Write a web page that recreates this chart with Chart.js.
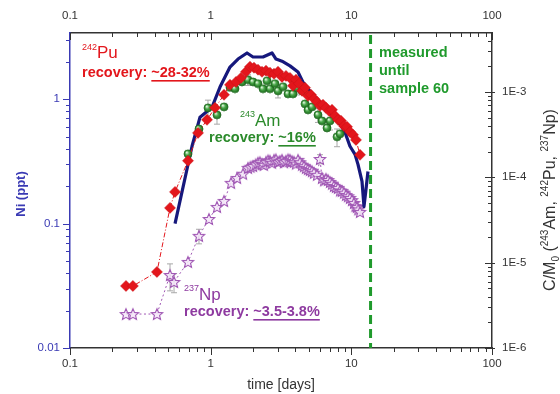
<!DOCTYPE html>
<html lang="en">
<head>
<meta charset="UTF-8">
<title>Ni and actinide breakthrough curves</title>
<script src="https://cdn.jsdelivr.net/npm/chart.js@4.4.1/dist/chart.umd.min.js"></script>
<style>
  body { margin: 0; background: #fff; }
  canvas { display: block; }
</style>
</head>
<body>
<canvas id="curves" width="560" height="394"></canvas>
<script>
// axis ticks
const tickDays = [0.1, 1, 10, 100];
const tickNi = [0.01, 0.1, 1];
const tickRatio = [1e-6, 1e-5, 1e-4, 1e-3];

// Ni in the effluent (ppt, left axis)
const niDays = [0.558, 0.737, 0.840, 1.022, 1.165, 1.372, 1.564, 1.813, 2.0, 2.355, 2.729, 2.914, 3.215, 3.664, 4.177,
                4.533, 5.083, 5.70, 6.50, 7.41, 8.31, 9.01, 9.78, 10.62, 11.15, 11.91, 12.30, 12.71, 13.13];
const niPpt = [0.100, 0.418, 0.716, 0.861, 1.25, 1.81, 2.10, 2.35, 2.18, 2.18, 2.35, 2.10, 2.02, 1.85, 1.65,
               1.37, 1.16, 1.00, 0.861, 0.716, 0.628, 0.542, 0.418, 0.360, 0.299, 0.218, 0.137, 0.188, 0.262];

// 242Pu C/M0 (right axis)
const puDays = [0.250, 0.280, 0.415, 0.514, 0.558, 0.690, 0.813, 0.942, 1.074, 1.244, 1.372, 1.514, 1.643, 1.783, 1.904,
                2.032, 2.170, 2.317, 2.474, 2.641, 2.820, 3.011, 3.215, 3.431, 3.664, 3.848, 4.043, 4.246, 4.460, 4.684,
                4.919, 5.167, 5.427, 5.70, 5.987, 6.288, 6.605, 6.937, 7.287, 7.653, 8.039, 8.444, 8.868, 9.315, 9.78,
                10.28, 10.79, 11.52];
const puRatio = [5.33e-6, 5.33e-6, 7.78e-6, 4.38e-5, 6.74e-5, 1.56e-4, 3.31e-4, 4.71e-4, 6.51e-4, 9.25e-4, 1.21e-3, 1.31e-3, 1.46e-3, 1.72e-3, 1.97e-3,
                 1.92e-3, 1.82e-3, 1.72e-3, 1.77e-3, 1.68e-3, 1.63e-3, 1.72e-3, 1.50e-3, 1.54e-3, 1.46e-3, 1.18e-3, 1.39e-3, 1.25e-3, 1.03e-3, 1.12e-3,
                 9.00e-4, 9.25e-4, 8.30e-4, 7.65e-4, 6.87e-4, 7.06e-4, 6.51e-4, 6.00e-4, 6.17e-4, 5.24e-4, 4.71e-4, 4.58e-4, 4.00e-4, 3.90e-4, 3.41e-4,
                 3.14e-4, 2.74e-4, 1.83e-4];

// 243Am C/M0 (right axis) with uncertainty
const amDays = [0.690, 0.826, 0.957, 1.109, 1.244, 1.372, 1.489, 1.670, 1.842, 2.0, 2.170, 2.355, 2.515, 2.641, 2.866,
                3.011, 3.268, 3.545, 3.848, 4.108, 4.460, 4.684, 4.919, 5.253, 5.794, 6.186, 6.714, 7.052, 7.910, 8.31];
const amRatio = [1.88e-4, 3.69e-4, 6.51e-4, 5.39e-4, 6.69e-4, 1.13e-3, 1.09e-3, 1.31e-3, 1.39e-3, 1.31e-3, 1.25e-3, 1.09e-3, 1.35e-3, 1.09e-3, 1.25e-3,
                 1.03e-3, 1.15e-3, 9.50e-4, 9.50e-4, 1.12e-3, 1.03e-3, 7.25e-4, 6.17e-4, 6.69e-4, 5.39e-4, 4.58e-4, 3.79e-4, 4.58e-4, 2.98e-4, 3.23e-4];
const amErr = [0, 0, 1.5e-4, 1.2e-4, 0, 0, 0, 0, 2.0e-4, 0, 0, 0, 0, 0, 0,
               1.8e-4, 0, 0, 0, 2.0e-4, 0, 0, 0, 0, 1.0e-4, 0, 0, 1.0e-4, 7.0e-5, 0];

// 237Np C/M0 (right axis) with uncertainty
const npDays = [0.250, 0.280, 0.415, 0.514, 0.549, 0.690, 0.826, 0.973, 1.109, 1.244,
                1.395, 1.539, 1.698, 1.842, 1.92, 2.0, 2.09, 2.170, 2.24, 2.317,
                2.39, 2.474, 2.56, 2.641, 2.73, 2.820, 2.91, 3.011, 3.11, 3.215,
                3.32, 3.431, 3.55, 3.664, 3.79, 3.912, 4.04, 4.177, 4.31, 4.460,
                4.61, 4.761, 4.92, 5.083, 5.25, 5.427, 5.70, 5.987, 6.186, 6.40,
                6.605, 6.83, 7.052, 7.29, 7.529, 7.78, 8.039, 8.31, 8.583, 8.87,
                9.165, 9.47, 9.78, 10.1, 10.44, 10.7, 10.97, 11.2, 11.52];
const npRatio = [2.50e-6, 2.50e-6, 2.50e-6, 7.17e-6, 5.94e-6, 1.02e-5, 2.06e-5, 3.25e-5, 4.50e-5, 5.29e-5,
                 8.60e-5, 9.84e-5, 1.10e-4, 1.29e-4, 1.33e-4, 1.36e-4, 1.42e-4, 1.48e-4, 1.50e-4, 1.44e-4,
                 1.40e-4, 1.52e-4, 1.58e-4, 1.56e-4, 1.48e-4, 1.60e-4, 1.62e-4, 1.52e-4, 1.55e-4, 1.60e-4,
                 1.50e-4, 1.56e-4, 1.62e-4, 1.60e-4, 1.55e-4, 1.52e-4, 1.45e-4, 1.60e-4, 1.50e-4, 1.40e-4,
                 1.35e-4, 1.29e-4, 1.25e-4, 1.22e-4, 1.18e-4, 1.13e-4, 1.07e-4, 1.64e-4, 9.84e-5, 9.20e-5,
                 9.58e-5, 9.30e-5, 8.83e-5, 8.40e-5, 7.93e-5, 7.70e-5, 7.51e-5, 7.00e-5, 6.93e-5, 6.60e-5,
                 6.22e-5, 6.00e-5, 5.73e-5, 5.40e-5, 5.01e-5, 4.60e-5, 4.50e-5, 4.20e-5, 3.93e-5];
const npErr = [0, 0, 0, 2.5e-6, 1.5e-6, 0, 4.0e-6, 0, 0, 0,
               0, 0, 0, 0, 0, 0, 0, 0, 0, 0,
               0, 0, 0, 0, 0, 0, 0, 0, 0, 0,
               0, 0, 0, 0, 0, 0, 0, 0, 0, 0,
               0, 0, 0, 0, 0, 0, 0, 2.0e-5, 0, 0,
               0, 0, 0, 0, 0, 0, 0, 0, 0, 0,
               0, 0, 0, 0, 0, 0, 0, 0, 0];

// last sample taken
const sampleEndDay = 13.7;

const FONT = '"Liberation Sans", Arial, Helvetica, sans-serif';
const INK = '#333';
const NI_BLUE = '#3a3ab4';
const PU_RED = '#e3161c';
const AM_GREEN = '#2b8a2b';
const NP_PURPLE = '#8e3aa0';
const END_GREEN = '#1f9a2c';

function pts(xs, ys) { return xs.map((x, i) => ({ x: x, y: ys[i] })); }

// 1..9 x 10^n steps between min and max
function logSteps(min, max) {
    const out = [];
    for (let e = Math.floor(Math.log10(min)); e <= Math.ceil(Math.log10(max)); e++) {
        for (let m = 1; m < 10; m++) {
            const v = m * Math.pow(10, e);
            if (v >= min * 0.999 && v <= max * 1.001) out.push({ v: v, major: m === 1 });
        }
    }
    return out;
}

// open five-point star marker
function starMarker(r) {
    const c = document.createElement('canvas');
    const s = Math.ceil(r * 2 + 4);
    c.width = c.height = s;
    const g = c.getContext('2d');
    g.translate(s / 2, s / 2 + 0.6);
    g.beginPath();
    for (let i = 0; i < 10; i++) {
        const rad = i % 2 ? r * 0.45 : r;
        const a = -Math.PI / 2 + i * Math.PI / 5;
        g.lineTo(rad * Math.cos(a), rad * Math.sin(a));
    }
    g.closePath();
    g.fillStyle = 'rgba(244,232,248,0.85)';
    g.fill();
    g.lineWidth = 1.1;
    g.strokeStyle = '#a057b4';
    g.stroke();
    return c;
}

// shaded ball marker
function ballMarker(r) {
    const c = document.createElement('canvas');
    const s = Math.ceil(r * 2 + 2);
    c.width = c.height = s;
    const g = c.getContext('2d');
    const m = s / 2;
    const grad = g.createRadialGradient(m - r * 0.35, m - r * 0.4, r * 0.1, m, m, r);
    grad.addColorStop(0, '#e4f6e0');
    grad.addColorStop(0.45, '#4aa84a');
    grad.addColorStop(1, '#1b6a1b');
    g.beginPath();
    g.arc(m, m, r, 0, Math.PI * 2);
    g.fillStyle = grad;
    g.fill();
    g.lineWidth = 0.8;
    g.strokeStyle = '#1f6a1f';
    g.stroke();
    return c;
}

// text runs with sizes, offsets and underline
function rich(ctx, x, y, parts, color, measureOnly) {
    ctx.fillStyle = color;
    let cx = x;
    parts.forEach(p => {
        ctx.font = (p.b ? 'bold ' : '') + p.s + 'px ' + FONT;
        const w = ctx.measureText(p.t).width;
        if (!measureOnly) {
            ctx.fillText(p.t, cx, y + (p.dy || 0));
            if (p.u) ctx.fillRect(cx, y + 3, w, 1.6);
        }
        cx += w;
    });
    return cx - x;
}

const axisTicks = {
    id: 'axisTicks',
    afterDraw(chart) {
        const { ctx, chartArea: a, scales } = chart;
        ctx.save();
        ctx.lineWidth = 1;
        const mark = (scale, side) => {
            logSteps(scale.min, scale.max).forEach(t => {
                const p = Math.round(scale.getPixelForValue(t.v)) + 0.5;
                const len = t.major ? 7 : 4;
                ctx.beginPath();
                if (side === 'bottom') { ctx.moveTo(p, a.bottom); ctx.lineTo(p, a.bottom + len); }
                if (side === 'top') { ctx.moveTo(p, a.top); ctx.lineTo(p, a.top + len); }
                if (side === 'left') { ctx.moveTo(a.left, p); ctx.lineTo(a.left - len, p); }
                if (side === 'right') { ctx.moveTo(a.right + (t.major ? 3 : 0), p); ctx.lineTo(a.right - len, p); }
                ctx.stroke();
            });
        };
        ctx.strokeStyle = INK;
        mark(scales.x, 'bottom');
        mark(scales.x2, 'top');
        mark(scales.y2, 'right');
        ctx.strokeStyle = NI_BLUE;
        mark(scales.y, 'left');

        // axis titles
        ctx.textBaseline = 'alphabetic';
        ctx.fillStyle = INK;
        ctx.font = '14px ' + FONT;
        ctx.textAlign = 'center';
        ctx.fillText('time [days]', 281, 389);

        ctx.save();
        ctx.translate(25, 194);
        ctx.rotate(-Math.PI / 2);
        ctx.fillStyle = NI_BLUE;
        ctx.font = 'bold 13px ' + FONT;
        ctx.fillText('Ni (ppt)', 0, 0);
        ctx.restore();

        ctx.textAlign = 'left';
        const rightTitle = [
            { t: 'C/M', s: 16 }, { t: '0', s: 10, dy: 4 }, { t: ' (', s: 16 },
            { t: '243', s: 10, dy: -7 }, { t: 'Am, ', s: 16 },
            { t: '242', s: 10, dy: -7 }, { t: 'Pu, ', s: 16 },
            { t: '237', s: 10, dy: -7 }, { t: 'Np)', s: 16 }
        ];
        const w = rich(ctx, 0, 0, rightTitle, INK, true);
        ctx.save();
        ctx.translate(555, 200 + w / 2);
        ctx.rotate(-Math.PI / 2);
        rich(ctx, 0, 0, rightTitle, INK);
        ctx.restore();
        ctx.restore();
    }
};

const errorBars = {
    id: 'errorBars',
    beforeDatasetsDraw(chart) {
        const { ctx, scales } = chart;
        ctx.save();
        ctx.strokeStyle = '#a8a8a8';
        ctx.lineWidth = 1;
        const bars = (xs, ys, es) => {
            xs.forEach((d, i) => {
                if (!es[i]) return;
                const px = scales.x.getPixelForValue(d);
                const hi = scales.y2.getPixelForValue(ys[i] + es[i]);
                const lo = scales.y2.getPixelForValue(Math.max(ys[i] - es[i], 1e-7));
                ctx.beginPath();
                ctx.moveTo(px, hi); ctx.lineTo(px, lo);
                ctx.moveTo(px - 3, hi); ctx.lineTo(px + 3, hi);
                ctx.moveTo(px - 3, lo); ctx.lineTo(px + 3, lo);
                ctx.stroke();
            });
        };
        bars(amDays, amRatio, amErr);
        bars(npDays, npRatio, npErr);
        ctx.restore();
    }
};

const notes = {
    id: 'notes',
    afterDatasetsDraw(chart) {
        const { ctx, scales, chartArea: a } = chart;
        ctx.save();
        // end of sampling
        const xe = scales.x.getPixelForValue(sampleEndDay);
        ctx.strokeStyle = END_GREEN;
        ctx.lineWidth = 3;
        ctx.setLineDash([9, 5]);
        ctx.beginPath();
        ctx.moveTo(xe, a.top + 2);
        ctx.lineTo(xe, a.bottom);
        ctx.stroke();
        ctx.setLineDash([]);

        ctx.textBaseline = 'alphabetic';
        ctx.textAlign = 'left';
        rich(ctx, 82, 58, [{ t: '242', s: 9, dy: -8 }, { t: 'Pu', s: 17 }], PU_RED);
        rich(ctx, 82, 77, [{ t: 'recovery: ', s: 14.5, b: 1 }, { t: '~28-32%', s: 14.5, b: 1, u: 1 }], PU_RED);

        rich(ctx, 240, 126, [{ t: '243', s: 9, dy: -9 }, { t: 'Am', s: 17 }], AM_GREEN);
        rich(ctx, 209, 142, [{ t: 'recovery: ', s: 14.5, b: 1 }, { t: '~16%', s: 14.5, b: 1, u: 1 }], AM_GREEN);

        rich(ctx, 184, 300, [{ t: '237', s: 9, dy: -9 }, { t: 'Np', s: 17 }], NP_PURPLE);
        rich(ctx, 184, 316, [{ t: 'recovery: ', s: 14.5, b: 1 }, { t: '~3.5-3.8%', s: 14.5, b: 1, u: 1 }], NP_PURPLE);

        ['measured', 'until', 'sample 60'].forEach((line, i) => {
            rich(ctx, 379, 57 + i * 18, [{ t: line, s: 14.5, b: 1 }], END_GREEN);
        });
        ctx.restore();
    }
};

function logAxis(pos, min, max, ticks, fmt, color, size, pad) {
    const horizontal = pos === 'top' || pos === 'bottom';
    return {
        type: 'logarithmic',
        position: pos,
        min: min,
        max: max,
        afterBuildTicks: s => { s.ticks = ticks.map(v => ({ value: v })); },
        afterFit: s => { if (horizontal) s.height = size; else s.width = size; },
        grid: { display: false },
        border: { display: true, color: color, width: 1.5 },
        ticks: {
            autoSkip: false,
            maxRotation: 0,
            padding: pad,
            color: color,
            font: { family: FONT, size: 11.5 },
            callback: fmt
        }
    };
}

const plain = v => String(v);
const sci = v => '1E' + Math.round(Math.log10(v));

new Chart(document.getElementById('curves'), {
    type: 'line',
    data: {
        datasets: [
            {
                label: '242Pu',
                data: pts(puDays, puRatio),
                yAxisID: 'y2',
                borderColor: PU_RED,
                borderWidth: 1,
                borderDash: [5, 2, 1, 2],
                pointStyle: 'rectRot',
                pointRadius: 5.5,
                pointBackgroundColor: PU_RED,
                pointBorderColor: '#c81014',
                pointBorderWidth: 0.5
            },
            {
                label: '243Am',
                data: pts(amDays, amRatio),
                yAxisID: 'y2',
                showLine: false,
                pointStyle: ballMarker(4),
                pointRadius: 4
            },
            {
                label: 'Ni',
                data: pts(niDays, niPpt),
                yAxisID: 'y',
                borderColor: '#16187c',
                borderWidth: 3.2,
                borderJoinStyle: 'round',
                pointRadius: 0
            },
            {
                label: '237Np',
                data: pts(npDays, npRatio),
                yAxisID: 'y2',
                borderColor: '#a057b4',
                borderWidth: 1,
                borderDash: [2, 2.5],
                pointStyle: starMarker(6),
                pointRadius: 6
            }
        ]
    },
    options: {
        responsive: false,
        animation: false,
        events: [],
        layout: { padding: 0 },
        elements: { line: { tension: 0 } },
        plugins: { legend: { display: false }, tooltip: { enabled: false } },
        scales: {
            x: logAxis('bottom', 0.1, 100, tickDays, plain, INK, 46, 1),
            x2: logAxis('top', 0.1, 100, tickDays, plain, INK, 33, 2),
            y: logAxis('left', 0.01, 3.4, tickNi, plain, NI_BLUE, 70, 2),
            y2: logAxis('right', 1e-6, 4.9e-3, tickRatio, sci, INK, 68, 2)
        }
    },
    plugins: [errorBars, notes, axisTicks]
});
</script>
</body>
</html>
